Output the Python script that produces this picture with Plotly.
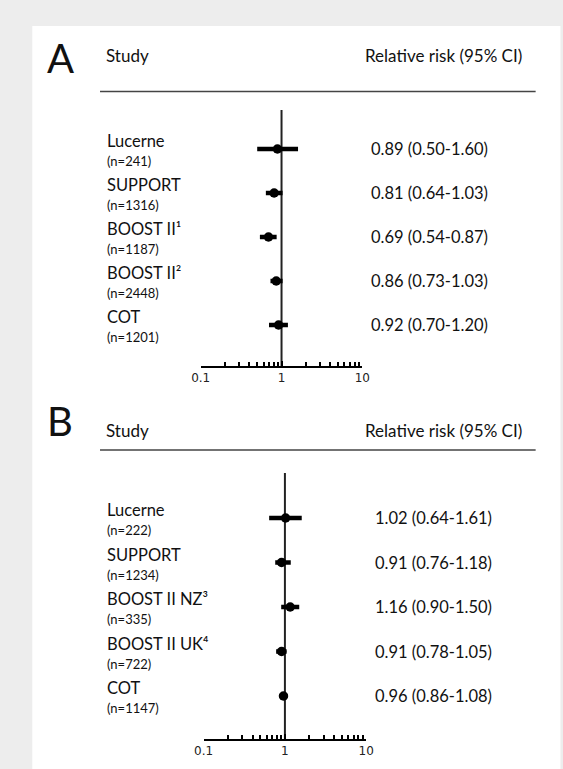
import plotly.graph_objects as go

W, H = 563, 769

# ---------------- data ----------------
studies_a = ["Lucerne", "SUPPORT", "BOOST II¹", "BOOST II²", "COT"]
n_a = [241, 1316, 1187, 2448, 1201]
rr_a = [0.89, 0.81, 0.69, 0.86, 0.92]
lo_a = [0.50, 0.64, 0.54, 0.73, 0.70]
hi_a = [1.60, 1.03, 0.87, 1.03, 1.20]

studies_b = ["Lucerne", "SUPPORT", "BOOST II NZ³", "BOOST II UK⁴", "COT"]
n_b = [222, 1234, 335, 722, 1147]
rr_b = [1.02, 0.91, 1.16, 0.91, 0.96]
lo_b = [0.64, 0.76, 0.90, 0.78, 0.86]
hi_b = [1.61, 1.18, 1.50, 1.05, 1.08]

major_ticks = [0.1, 1, 10]
major_labels = ["0.1", "1", "10"]
minor_ticks = [0.2, 0.3, 0.4, 0.5, 0.6, 0.7, 0.8, 0.9, 2, 3, 4, 5, 6, 7, 8, 9]

header_left = "Study"
header_right = "Relative risk (95% CI)"

FONT = "Lato"


def px(v):
    return v / W


def py(v):
    return 1 - v / H


panels = [
    dict(letter="A", studies=studies_a, n=n_a, rr=rr_a, lo=lo_a, hi=hi_a,
         letter_y=58, head_y=55, line_y=91.5, x0=197, x1=364,
         top=110, bot=366, r0=149, step=44, val_x=373),
    dict(letter="B", studies=studies_b, n=n_b, rr=rr_b, lo=lo_b, hi=hi_b,
         letter_y=421, head_y=430, line_y=450, x0=200, x1=368,
         top=473, bot=739, r0=518, step=44.5, val_x=377),
]

fig = go.Figure()
annotations = []
shapes = [
    # white panel on grey page
    dict(type="rect", xref="paper", yref="paper", x0=px(23), x1=1.01,
         y0=-0.01, y1=py(26), fillcolor="white", line=dict(width=0), layer="below"),
]

for i, p in enumerate(panels):
    xa = "x" if i == 0 else "x2"
    ya = "y" if i == 0 else "y2"
    rows = list(range(len(p["studies"])))

    # CI bars
    xs, ys = [], []
    for r, lo, hi in zip(rows, p["lo"], p["hi"]):
        xs += [lo, hi, None]
        ys += [r, r, None]
    fig.add_trace(go.Scatter(x=xs, y=ys, mode="lines", xaxis=xa, yaxis=ya,
                             line=dict(color="black", width=4.5), showlegend=False,
                             hoverinfo="skip"))
    # point estimates
    fig.add_trace(go.Scatter(x=p["rr"], y=rows, mode="markers", xaxis=xa, yaxis=ya,
                             marker=dict(color="black", size=9.5, symbol="circle"),
                             showlegend=False))

    # reference line at RR = 1
    shapes.append(dict(type="line", xref=xa, yref=ya + " domain", x0=1, x1=1, y0=0, y1=1,
                       line=dict(color="#222", width=2), layer="below"))

    # header line
    shapes.append(dict(type="line", xref="paper", yref="paper", x0=px(93), x1=px(543),
                       y0=py(p["line_y"]), y1=py(p["line_y"]),
                       line=dict(color="#444", width=1.5)))

    # headers
    annotations.append(dict(text=p["letter"], xref="paper", yref="paper", x=px(52),
                            y=py(p["letter_y"]), xanchor="center", yanchor="middle",
                            showarrow=False, font=dict(family=FONT, size=40, color="#111")))
    annotations.append(dict(text=header_left, xref="paper", yref="paper", x=px(97),
                            y=py(p["head_y"]), xanchor="left", yanchor="middle",
                            showarrow=False, font=dict(family=FONT, size=17, color="#111")))
    annotations.append(dict(text=header_right, xref="paper", yref="paper", x=px(531),
                            y=py(p["head_y"]), xanchor="right", yanchor="middle",
                            showarrow=False, font=dict(family=FONT, size=17, color="#111")))

    for r, name, n, rr, lo, hi in zip(rows, p["studies"], p["n"], p["rr"], p["lo"], p["hi"]):
        annotations.append(dict(text=name, xref="paper", yref=ya, x=px(98), y=r, yshift=8,
                                xanchor="left", yanchor="middle", showarrow=False,
                                font=dict(family=FONT, size=16.5, color="#111")))
        annotations.append(dict(text=f"(n={n})", xref="paper", yref=ya, x=px(98), y=r,
                                yshift=-12, xanchor="left", yanchor="middle", showarrow=False,
                                font=dict(family=FONT, size=13, color="#111")))
        annotations.append(dict(text=f"{rr:.2f} ({lo:.2f}-{hi:.2f})", xref="paper", yref=ya,
                                x=px(p["val_x"] - 2), y=r, xanchor="left", yanchor="middle",
                                showarrow=False, font=dict(family=FONT, size=16.5, color="#111")))

    xaxis = dict(type="log", range=[-1, 1], domain=[px(p["x0"]), px(p["x1"])],
                 anchor=ya, showgrid=False, zeroline=False, showline=True,
                 linecolor="black", linewidth=2, ticks="inside", ticklen=5, tickwidth=1.5,
                 tickcolor="black", tickmode="array", tickvals=major_ticks,
                 ticktext=major_labels, tickfont=dict(family="DejaVu Sans", size=12, color="#222"),
                 minor=dict(ticks="inside", ticklen=4, tickwidth=1.5, tickcolor="black",
                            tickmode="array", tickvals=minor_ticks, showgrid=False),
                 fixedrange=True)
    yaxis = dict(range=[(p["bot"] - p["r0"]) / p["step"], (p["top"] - p["r0"]) / p["step"]],
                 domain=[py(p["bot"]), py(p["top"])], anchor=xa, visible=False,
                 showgrid=False, zeroline=False, fixedrange=True)
    if i == 0:
        fig.update_layout(xaxis=xaxis, yaxis=yaxis)
    else:
        fig.update_layout(xaxis2=xaxis, yaxis2=yaxis)

fig.update_layout(width=W, height=H, margin=dict(l=0, r=0, t=0, b=0),
                  paper_bgcolor="#ededed", plot_bgcolor="rgba(0,0,0,0)",
                  shapes=shapes, annotations=annotations, showlegend=False)

fig.write_html("out.html", config={"displayModeBar": False},
               post_script="document.body.style.margin='0';document.body.style.overflow='hidden';")
